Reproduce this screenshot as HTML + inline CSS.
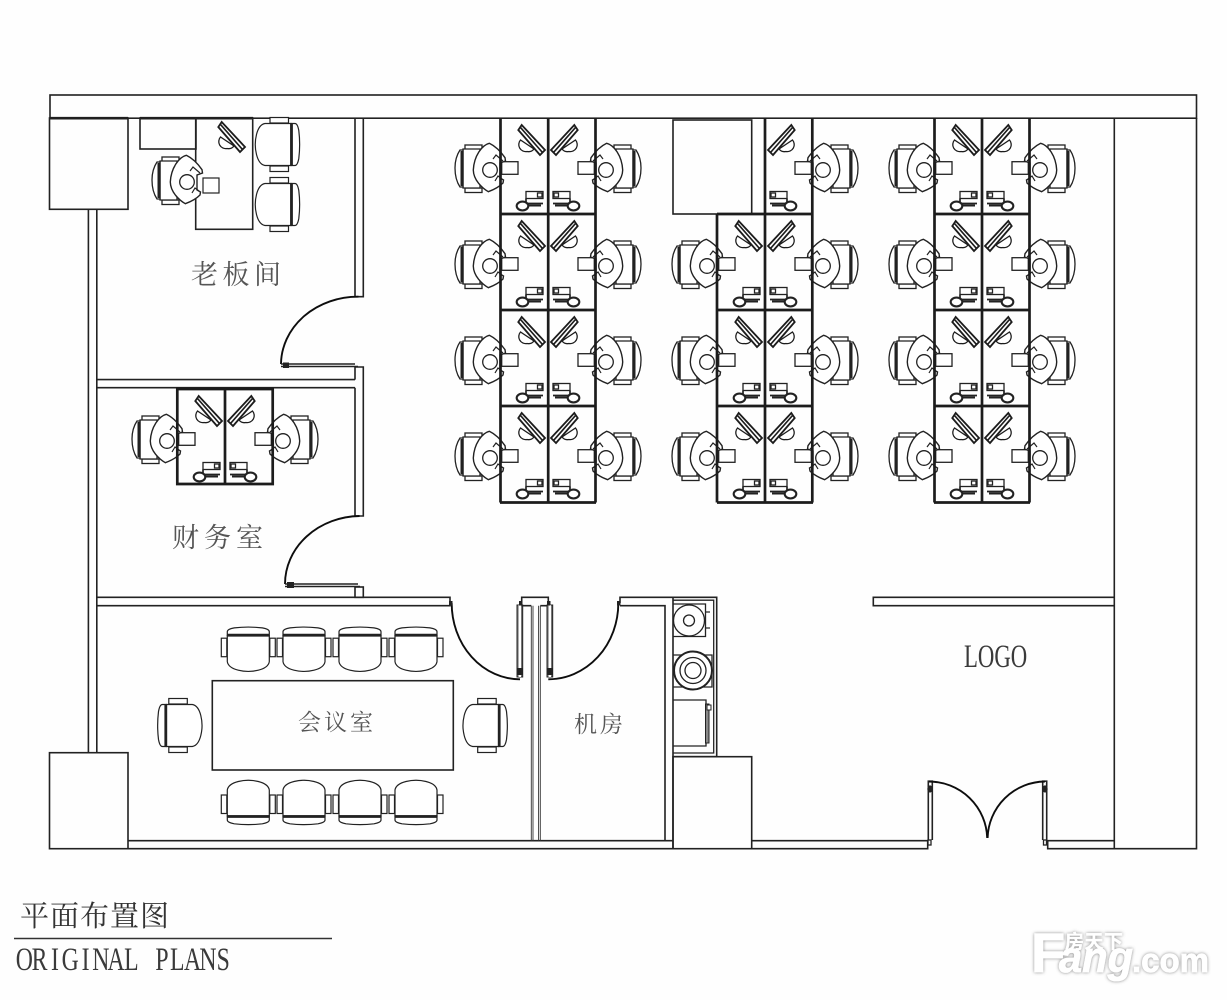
<!DOCTYPE html>
<html lang="zh">
<head>
<meta charset="utf-8">
<title>平面布置图</title>
<style>
html,body{margin:0;padding:0;background:#fff;width:1227px;height:1000px;overflow:hidden}
svg{display:block}
.w{fill:none;stroke:#222;stroke-width:1.6}
.t{fill:none;stroke:#222;stroke-width:1.3}
.k{fill:none;stroke:#1c1c1c;stroke-width:2.7}
.a{fill:none;stroke:#111;stroke-width:1.9}
.z{font-family:"Noto Serif CJK SC","Liberation Serif",serif;fill:#555}
.m{font-family:"Liberation Serif",serif;fill:#3a3a3a}
</style>
</head>
<body>
<svg width="1227" height="1000" viewBox="0 0 1227 1000" xmlns="http://www.w3.org/2000/svg">
<defs>
<filter id="soft" x="-2%" y="-2%" width="104%" height="104%"><feGaussianBlur stdDeviation="0.35"/></filter>
<filter id="halo" x="-10%" y="-20%" width="120%" height="140%"><feDropShadow dx="0" dy="0" stdDeviation="1.6" flood-color="#777" flood-opacity="0.9"/></filter>

<g id="pc" fill="#fff" stroke="#222" stroke-width="1.3">
  <rect x="-35" y="27" width="17" height="4.5"/>
  <rect x="-35" y="70" width="17" height="4.5"/>
  <path d="M-37,31 H-20 V70 H-37 Z"/>
  <path d="M-40,32 C-44,38 -45,44 -45,50 C-45,56 -44,63 -40,69 L-37,69 L-37,32 Z"/>
  <path d="M-38.3,33 V68" stroke-width="2.4" fill="none"/>
  <path d="M-10.7,25.3 C-5,28 1,34 5,39.7 L5.5,43 L0,45 L0,60 L3.5,62 L3,65 C-1,69 -7,72 -11.7,73.7 C-18,70 -26.5,62 -26.7,52 C-26,38 -18,27 -10.7,25.3 Z" stroke-width="1.4"/>
  <circle cx="-10" cy="52" r="7.3"/>
  <path d="M-7,41 L-4,37 L3,43 M-5,63 L-2,58 L2,61" fill="none" stroke-width="1.2"/>
</g>

<g id="mon" fill="#fff" stroke="#1c1c1c" stroke-width="1.3">
  <path d="M27,33.5 A7,7 0 0 1 20.5,22 L34,31 A7,7 0 0 1 27,33.5 Z"/>
  <polygon points="21.7,7 45,32 40,37 18.3,12" stroke-width="1.8"/>
  <path d="M20.5,9.5 L42.5,34.5" stroke-width="1.7" fill="none"/>
</g>

<g id="ws" fill="#fff" stroke="#222" stroke-width="1.3">
  <rect x="1.7" y="43.7" width="16.3" height="12.6"/>
  <use href="#pc"/>
  <use href="#mon"/>
  <rect x="26" y="73.5" width="17" height="7"/>
  <rect x="37.5" y="75" width="4.5" height="4"/>
  <path d="M26,80.5 V85.5 H43" fill="none" stroke-width="1.7"/>
  <path d="M28,87.5 L41,87.5" fill="none" stroke-width="2"/>
  <ellipse cx="22.5" cy="88" rx="5.8" ry="4.4" stroke-width="2.1"/>
</g>

<g id="chair" fill="#fff" stroke="#222" stroke-width="1.2">
  <rect x="-27" y="11.5" width="5.5" height="18.5"/>
  <rect x="21.5" y="11.5" width="5.5" height="18.5"/>
  <path d="M-21,9 V35 Q-20,41 -10,43.5 Q0,46 10,43.5 Q20,41 21,35 V9 Z"/>
  <path d="M-21,9 V5 Q-21,2.5 -14,1.2 Q0,-0.5 14,1.2 Q21,2.5 21,5 V9 Z"/>
  <path d="M-21,8.5 H21" stroke-width="2.8" fill="none"/>
</g>
</defs>

<rect width="1227" height="1000" fill="#fefefe"/>

<g filter="url(#soft)">
<!-- outer shell -->
<rect class="w" x="50" y="95" width="1146.5" height="23.2"/>
<path class="w" d="M1196.5,118 V848.7 H1047.7 V840.7 H1114.3 M1114.3,118 V848.7"/>
<path class="k" d="M50,118.2 H128" stroke-width="2"/>
<path class="k" d="M140,118.2 H253" stroke-width="2"/>

<!-- columns -->
<rect class="w" x="49.5" y="118" width="78.5" height="91.3"/>
<rect class="w" x="49.5" y="752.7" width="78.5" height="96"/>
<path class="w" d="M128,840.7 H673 M128,848.7 H673 M751.7,840.7 H927.7 V848.7 H751.7"/>
<rect class="w" x="673" y="756.7" width="78.7" height="92" fill="#fff"/>

<!-- left wall -->
<path class="w" d="M88.4,209 V752.7 M96.8,209 V752.7"/>

<!-- boss / finance walls -->
<path class="w" d="M355,118 V296.7 H363.3 V118"/>
<path class="w" d="M96.8,379.6 H355 M96.8,387.7 H355"/>
<path class="w" d="M355,367 H363.3 V516 H355 V387.7 M355,379.6 V367"/>
<path class="w" d="M96.8,597.3 H450 V605.7 H96.8"/>
<rect class="w" x="355" y="587" width="8.3" height="10.3"/>

<!-- boss door -->
<path class="a" d="M358.5,296.7 A77,68 0 0 0 281,364"/>
<path class="w" d="M281,364 H355 M281,366.5 H358"/>
<rect x="283" y="362.5" width="6" height="5.5" fill="#222"/>
<!-- finance door -->
<path class="a" d="M359.5,516 A76,68 0 0 0 285,584"/>
<path class="w" d="M285,584 H358 M285,586.5 H360"/>
<rect x="287" y="582" width="7" height="6" fill="#222"/>

<!-- conference door + server room walls -->
<path class="a" d="M451.7,603 A68.5,76 0 0 0 520,679.3"/>
<rect x="517" y="605" width="5.7" height="72" fill="#777" stroke="#222" stroke-width="1"/>
<rect x="518.6" y="605" width="2.4" height="72" fill="#fff" stroke="none"/>
<rect x="516.5" y="668" width="6.5" height="7" fill="#222"/>
<rect x="519" y="601" width="3.5" height="4.5" fill="#222"/>
<rect x="449" y="601" width="3.5" height="4.5" fill="#222"/>
<path class="w" d="M521.7,603 V597.3 H548.3 V603 M521.7,605.7 H531.3 M540.3,605.7 H548.3"/>
<path d="M531.3,605.7 V840.7 M533,605.7 V840.7 M538.6,605.7 V840.7 M540.3,605.7 V840.7" fill="none" stroke="#333" stroke-width="0.9"/>
<path class="a" d="M618.3,603.3 A70,76 0 0 1 548.3,679.3"/>
<rect x="547" y="605" width="5.7" height="72" fill="#777" stroke="#222" stroke-width="1"/>
<rect x="548.6" y="605" width="2.4" height="72" fill="#fff" stroke="none"/>
<rect x="546.5" y="668" width="6.5" height="7" fill="#222"/>
<rect x="547" y="601" width="3.5" height="4.5" fill="#222"/>
<rect x="617" y="601" width="3.5" height="4.5" fill="#222"/>
<path class="w" d="M620,603 V597.3 H673 M620,605.7 H665 V840.7 M673,597.3 V848.7"/>

<!-- equipment enclosure -->
<path class="w" d="M673,597.3 H716.7 V756.7 H673"/>
<path class="t" d="M673,600.2 H713.7 V753 H673"/>
<path class="t" d="M673,604 H705.5 V636.5 H673"/>
<circle class="t" cx="689" cy="620.5" r="15.5"/>
<circle class="t" cx="689" cy="620.5" r="5.5"/>
<path class="t" d="M705,612 H710 M705,628 H710" stroke-width="2"/>
<path class="t" d="M673,655 H712 V687 H673"/>
<circle cx="693" cy="670.5" r="19" fill="#fff" stroke="#222" stroke-width="2"/>
<circle class="t" cx="693" cy="670.5" r="13"/>
<circle class="t" cx="693" cy="670.5" r="8"/>
<path class="t" d="M673,700 H706 V746 H673"/>
<rect x="705.5" y="704" width="3.5" height="39" fill="#888" stroke="#222" stroke-width="1"/>
<rect x="707" y="705" width="4" height="5" fill="#fff" stroke="#222" stroke-width="1"/>

<!-- right stub wall -->
<path class="w" d="M1114.3,597.3 H873.3 V605.7 H1114.3"/>

<!-- double door -->
<path class="w" d="M928.3,840 V781.2 H932.3 V840 M1042.7,840 V781.2 H1046.7 V840"/>
<path class="a" d="M929,781.5 A58.5,58 0 0 1 987.2,838"/>
<path class="a" d="M1045,781.5 A58,58 0 0 0 987.6,838"/>
<ellipse cx="930" cy="789" rx="2.7" ry="3.6" fill="#222"/>
<ellipse cx="1045" cy="789" rx="2.7" ry="3.6" fill="#222"/>
<rect class="t" x="928" y="840" width="3" height="5"/>
<rect class="t" x="1043.5" y="840" width="3" height="5"/>

<!-- boss furniture -->
<rect class="w" x="140" y="118" width="56" height="31"/>
<rect class="w" x="195.7" y="118" width="57" height="111.3" fill="#fff"/>
<use href="#chair" transform="translate(300,144.5) rotate(90)"/>
<use href="#chair" transform="translate(300,204.5) rotate(90)"/>
<use href="#mon" transform="translate(200,115)"/>
<rect x="203" y="178" width="16" height="15" fill="#fff" stroke="#222" stroke-width="1.2"/>
<use href="#pc" transform="translate(197,130)"/>

<!-- finance workstations -->
<use href="#ws" transform="translate(177,389)"/>
<use href="#ws" transform="translate(273,389) scale(-1,1)"/>
<path class="k" d="M177.3,389 H272.7 V484 H177.3 Z M225,389 V484" stroke-width="2.2"/>

<!-- group 1 -->
<use href="#ws" transform="translate(500,118)"/><use href="#ws" transform="translate(596,118) scale(-1,1)"/>
<use href="#ws" transform="translate(500,214)"/><use href="#ws" transform="translate(596,214) scale(-1,1)"/>
<use href="#ws" transform="translate(500,310)"/><use href="#ws" transform="translate(596,310) scale(-1,1)"/>
<use href="#ws" transform="translate(500,406)"/><use href="#ws" transform="translate(596,406) scale(-1,1)"/>
<path class="k" d="M500.5,118 V502.5 M548.2,118 V502.5 M595.5,118 V502.5 M500,214 H596 M500,310 H596 M500,406 H596 M500,502.5 H596"/>

<!-- group 2 -->
<rect class="w" x="673" y="120" width="78.7" height="94" fill="#fff"/>
<use href="#ws" transform="translate(813,118) scale(-1,1)"/>
<use href="#ws" transform="translate(717,214)"/><use href="#ws" transform="translate(813,214) scale(-1,1)"/>
<use href="#ws" transform="translate(717,310)"/><use href="#ws" transform="translate(813,310) scale(-1,1)"/>
<use href="#ws" transform="translate(717,406)"/><use href="#ws" transform="translate(813,406) scale(-1,1)"/>
<path class="k" d="M717,214 V502.5 M765,118 V502.5 M812.3,118 V502.5 M717,214 H813 M717,310 H813 M717,406 H813 M717,502.5 H813"/>

<!-- group 3 -->
<use href="#ws" transform="translate(934,118)"/><use href="#ws" transform="translate(1030,118) scale(-1,1)"/>
<use href="#ws" transform="translate(934,214)"/><use href="#ws" transform="translate(1030,214) scale(-1,1)"/>
<use href="#ws" transform="translate(934,310)"/><use href="#ws" transform="translate(1030,310) scale(-1,1)"/>
<use href="#ws" transform="translate(934,406)"/><use href="#ws" transform="translate(1030,406) scale(-1,1)"/>
<path class="k" d="M934.5,118 V502.5 M982,118 V502.5 M1029.5,118 V502.5 M934,214 H1030 M934,310 H1030 M934,406 H1030 M934,502.5 H1030"/>

<!-- conference -->
<rect class="w" x="212.3" y="680.7" width="241" height="89.3"/>
<use href="#chair" transform="translate(248.3,626.7)"/>
<use href="#chair" transform="translate(304,626.7)"/>
<use href="#chair" transform="translate(360,626.7)"/>
<use href="#chair" transform="translate(416,626.7)"/>
<use href="#chair" transform="translate(248.3,825) scale(1,-1)"/>
<use href="#chair" transform="translate(304,825) scale(1,-1)"/>
<use href="#chair" transform="translate(360,825) scale(1,-1)"/>
<use href="#chair" transform="translate(416,825) scale(1,-1)"/>
<use href="#chair" transform="translate(157.3,725.5) rotate(-90)"/>
<use href="#chair" transform="translate(507.7,725.5) rotate(90)"/>

<!-- title rule -->
<path d="M14,938.5 H332" stroke="#333" stroke-width="1.6" fill="none"/>
</g>

<!-- labels -->
<text class="z" x="191" y="284" font-size="27" textLength="90" lengthAdjust="spacing">老板间</text>
<text class="z" x="172" y="547" font-size="27" textLength="91" lengthAdjust="spacing">财务室</text>
<text class="z" x="298" y="730" font-size="23" textLength="75" lengthAdjust="spacing">会议室</text>
<text class="z" x="574" y="732" font-size="23" textLength="49" lengthAdjust="spacing">机房</text>
<text class="z" x="20" y="926" font-size="29" textLength="149" lengthAdjust="spacing" style="fill:#333">平面布置图</text>
<text class="m" x="0" y="0" font-size="33" transform="translate(964,667) scale(.69,1)">LOGO</text>
<text class="m" y="0" font-size="33" text-anchor="middle" transform="translate(1,970) scale(.72,1)" x="32.4 53.6 74.9 96.1 117.4 138.6 159.9 181.1 202.4 223.6 244.9 266.1 287.4 308.6">ORIGINAL PLANS</text>

<!-- watermark -->
<g filter="url(#halo)" fill="#fff" stroke="#fff" stroke-width="0.8" font-family="'Liberation Sans',sans-serif" font-weight="bold">
  <text x="1031" y="972" font-size="56">F</text>
  <text x="1059" y="972" font-size="44" font-style="italic" textLength="74" lengthAdjust="spacingAndGlyphs">ang</text>
  <text x="1132" y="972" font-size="34" textLength="77" lengthAdjust="spacingAndGlyphs">.com</text>
  <text x="1065" y="948" font-size="19" stroke-width="0.3" textLength="58" lengthAdjust="spacing" font-family="'Noto Sans CJK SC',sans-serif">房天下</text>
</g>
</svg>
</body>
</html>
